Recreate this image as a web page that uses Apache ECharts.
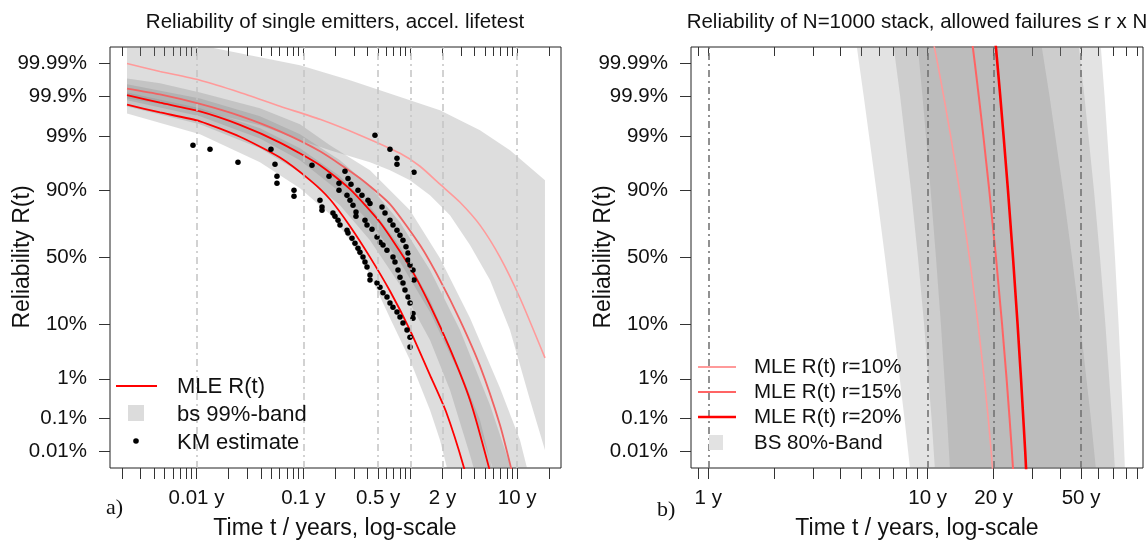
<!DOCTYPE html>
<html>
<head>
<meta charset="utf-8">
<script src="https://cdn.jsdelivr.net/npm/echarts@6/dist/echarts.min.js"></script>
<style>
  html, body { margin: 0; padding: 0; background: #fff; }
  #chart { width: 1148px; height: 540px; }
</style>
</head>
<body>
<div id="chart"></div>
<script>
// ---------- axis ticks and labels ----------
const relTickValues = [99.99, 99.9, 99, 90, 50, 10, 1, 0.1, 0.01];
const relTickLabels = ['99.99%', '99.9%', '99%', '90%', '50%', '10%', '1%', '0.1%', '0.01%'];

const timeTicksA = [0.002, 0.003, 0.004, 0.005, 0.006, 0.007, 0.008, 0.009,
  0.01, 0.02, 0.03, 0.04, 0.05, 0.06, 0.07, 0.08, 0.09,
  0.1, 0.2, 0.3, 0.4, 0.5, 0.6, 0.7, 0.8, 0.9,
  1, 2, 3, 4, 5, 6, 7, 8, 9, 10, 20];
const timeLabelValuesA = [0.01, 0.1, 0.5, 2, 10];
const timeLabelTextsA = ['0.01 y', '0.1 y', '0.5 y', '2 y', '10 y'];
const timeGridA = [0.01, 0.1, 0.5, 1, 2, 10];

const timeTicksB = [0.9, 1, 2, 3, 4, 5, 6, 7, 8, 9, 10, 20, 30, 40, 50, 60, 70, 80, 90];
const timeLabelValuesB = [1, 10, 20, 50];
const timeLabelTextsB = ['1 y', '10 y', '20 y', '50 y'];
const timeGridB = [1, 10, 20, 50];

// ---------- panel a: MLE curves (time in years, reliability in %) ----------
const mlePinkT = [0.002239, 0.004556, 0.01078, 0.02551, 0.0604, 0.1429, 0.3384, 0.801, 1.232, 1.896, 2.917, 4.487, 6.904, 10.62, 18.20];
const mlePinkR = [99.990, 99.982, 99.966, 99.922, 99.813, 99.597, 99.048, 97.71, 95.99, 92.0, 85.55, 73.27, 50.3, 21.85, 2.71];

const mleMidT = [0.002239, 0.004556, 0.01078, 0.02551, 0.0604, 0.1429, 0.3384, 0.6456, 1.232, 1.896, 2.917, 4.487, 6.904, 8.750, 9.745];
const mleMidR = [99.940, 99.912, 99.839, 99.67, 99.22, 97.91, 93.57, 84.67, 59.4, 33.25, 11.53, 1.88, 0.0662, 0.0028, 0.00042];

const mleRed2T = [0.002239, 0.004556, 0.01078, 0.02551, 0.0604, 0.1429, 0.2729, 0.5206, 0.9935, 1.529, 2.352, 3.618, 5.448, 6.199];
const mleRed2R = [99.907, 99.85, 99.745, 99.45, 98.62, 96.16, 90.48, 75.0, 42.7, 18.09, 3.99, 0.315, 0.0028, 0.00027];

const mleRed1T = [0.002239, 0.004556, 0.01078, 0.02551, 0.0604, 0.1153, 0.1773, 0.2729, 0.4198, 0.6456, 0.9935, 1.529, 2.158, 3.180, 3.618];
const mleRed1R = [99.83, 99.73, 99.55, 98.97, 97.24, 93.10, 86.8, 72.6, 50.3, 26.0, 8.21, 1.21, 0.157, 0.0028, 0.00027];

// ---------- panel a: bootstrap 99% bands, outline vertices [time, reliability %] ----------
const bandPink = [
  [0.002239, 99.99934], [0.01078, 99.99764], [0.09294, 99.9886], [0.2729, 99.966], [0.9935, 99.871],
  [1.896, 99.763], [4.487, 99.268], [8.563, 98.02], [18.20, 93.10],
  [18.20, 0.0112], [13.18, 0.315], [8.563, 8.21], [5.567, 33.25], [3.618, 59.4], [2.352, 79.16],
  [1.529, 88.4], [0.9935, 93.1], [0.6456, 95.29], [0.4198, 96.6], [0.2729, 97.4], [0.1773, 98.02],
  [0.09294, 98.77], [0.03926, 99.44], [0.01078, 99.763], [0.004556, 99.84], [0.002239, 99.885]
];
const bandMid = [
  [0.002239, 99.970], [0.004556, 99.958], [0.01078, 99.922], [0.03926, 99.788], [0.09294, 99.47],
  [0.1773, 98.43], [0.4198, 95.29], [0.9935, 81.8], [1.896, 49.5], [3.618, 12.3], [6.904, 0.62],
  [10.62, 0.0234], [13.18, 0.001],
  [6.904, 0.00042], [4.487, 0.0472], [2.917, 1.213], [1.529, 14.8], [0.801, 46.5], [0.4198, 75.0],
  [0.2199, 89.5], [0.09294, 96.9], [0.03926, 98.88], [0.01078, 99.66], [0.002239, 99.871]
];
const bandRed2 = [
  [0.002239, 99.955], [0.01078, 99.885], [0.03926, 99.66], [0.09294, 99.09], [0.2199, 96.9],
  [0.4198, 91.4], [0.801, 75.0], [1.529, 40.5], [2.917, 8.21], [5.567, 0.234], [9.537, 0.001],
  [4.487, 0.00042], [3.618, 0.0077], [2.352, 0.554], [1.529, 5.68], [0.801, 29.84], [0.4198, 63.0],
  [0.2199, 84.23], [0.09294, 94.9], [0.03926, 98.18], [0.01078, 99.47], [0.002239, 99.81]
];
const bandRed1 = [
  [0.002239, 99.922], [0.01078, 99.788], [0.03926, 99.34], [0.09294, 98.18], [0.2199, 94.05],
  [0.4198, 83.75], [0.801, 58.6], [1.529, 20.7], [2.917, 1.55], [4.487, 0.092], [6.199, 0.001],
  [2.352, 0.001], [1.896, 0.0234], [1.529, 0.173], [0.9935, 2.47], [0.6456, 12.3], [0.4198, 36.8],
  [0.2729, 63.0], [0.1773, 79.7], [0.09294, 90.8], [0.03926, 96.6], [0.01078, 99.09], [0.002239, 99.71]
];

// ---------- panel a: Kaplan-Meier estimate ----------
const kmTime = [0.00927, 0.01338, 0.02444, 0.04975, 0.05424, 0.0566, 0.0566, 0.08169, 0.08169, 0.1203,
  0.1736, 0.2153, 0.2153, 0.2449, 0.2614, 0.2789, 0.2558, 0.2729, 0.2911, 0.3105,
  0.3105, 0.1429, 0.1493, 0.1493, 0.1891, 0.1975, 0.2108, 0.22, 0.2558, 0.2614,
  0.2849, 0.3039, 0.3242, 0.3384, 0.3610, 0.3769, 0.3936, 0.4198, 0.4198, 0.4882,
  0.5206, 0.5555, 0.6053, 0.6456, 0.6889, 0.7508, 0.801, 0.8545, 0.9313, 0.9935, 0.9935,
  0.3242, 0.3533, 0.4021, 0.4198, 0.3769, 0.3936, 0.4383, 0.4882, 0.5206, 0.5555,
  0.6053, 0.6889, 0.7192, 0.7674, 0.801, 0.8545, 0.8921, 0.9517, 0.9935, 1.060, 1.060,
  0.5437, 0.5800, 0.6456, 0.6889, 0.7508, 0.801, 0.8545, 0.9117, 0.9517, 0.9517, 0.9935, 1.060, 1.083,
  0.4675, 0.6456, 0.7508, 0.7508, 1.083];
const kmRel = [98.43, 98.1, 96.6, 98.1, 96.3, 94.05, 92.3, 90.17, 88.0, 96.16,
  94.05, 92.3, 90.17, 95.1, 93.5, 92.0, 88.4, 86.4, 84.2, 80.8,
  78.6, 86.4, 83.3, 81.8, 80.3, 78.6, 76.3, 73.3, 70.0, 68.0,
  64.4, 60.8, 57.1, 54.1, 50.3, 46.5, 42.7, 36.8, 33.25, 31.2,
  28.5, 25.0, 22.4, 19.1, 17.0, 14.8, 12.7, 10.5, 8.21, 6.3, 4.3,
  90.17, 88.4, 86.4, 85.0, 76.3, 73.3, 70.6, 65.2, 61.5, 59.4,
  55.6, 50.3, 46.5, 40.5, 35.3, 31.2, 26.6, 22.4, 19.1, 14.2, 12.2,
  83.3, 80.3, 76.3, 73.3, 70.0, 66.6, 63.0, 58.1, 53.4, 48.0, 44.2, 40.5, 33.25,
  99.05, 98.1, 97.15, 96.3, 94.9];

// ---------- panel b: stack reliability ----------
const stackLevels = [99.9999, 99.99, 99.9, 99, 90, 50, 10, 1, 0.1, 0.01, 0.0001];
const stackR10 = [9.91, 11.10, 11.83, 12.73, 13.99, 15.50, 16.97, 18.11, 18.89, 19.47, 20.35];
const stackR15 = [15.28, 16.41, 17.10, 17.94, 19.09, 20.48, 21.83, 22.89, 23.62, 24.20, 25.10];
const stackR20 = [19.74, 20.78, 21.42, 22.18, 23.23, 24.48, 25.69, 26.63, 27.28, 27.83, 28.62];

// 80% bands: earliest and latest time at each reliability level
const bandLevels = [99.9999, 99.9, 90, 50, 10, 0.1, 0.0001];
const bandR10Lo = [4.50, 5.11, 5.84, 6.39, 6.97, 7.84, 8.67];
const bandR10Hi = [31.13, 35.92, 41.42, 45.47, 49.61, 55.43, 60.74];
const bandR15Lo = [6.65, 7.49, 8.40, 9.03, 9.63, 10.42, 11.06];
const bandR15Hi = [46.68, 51.79, 57.28, 61.00, 64.55, 69.18, 72.92];
const bandR20Lo = [8.69, 9.47, 10.32, 10.91, 11.49, 12.26, 12.92];
const bandR20Hi = [59.73, 64.01, 68.47, 71.40, 74.15, 77.67, 80.41];

// ---------- helpers ----------
const FONT = '"Liberation Sans", Arial, Helvetica, sans-serif';

// inverse standard normal CDF (Acklam), used for the probability-paper axis
function qnorm(p) {
  const a = [-3.969683028665376e+01, 2.209460984245205e+02, -2.759285104469687e+02, 1.383577518672690e+02, -3.066479806614716e+01, 2.506628277459239e+00];
  const b = [-5.447609879822406e+01, 1.615858368580409e+02, -1.556989798598866e+02, 6.680131188771972e+01, -1.328068155288572e+01];
  const c = [-7.784894002430293e-03, -3.223964580411365e-01, -2.400758277161838e+00, -2.549732539343734e+00, 4.374664141464968e+00, 2.938163982698783e+00];
  const d = [7.784695709041462e-03, 3.224671290700398e-01, 2.445134137142996e+00, 3.754408661907416e+00];
  const pl = 0.02425;
  let q, r;
  if (p < pl) {
    q = Math.sqrt(-2 * Math.log(p));
    return (((((c[0]*q+c[1])*q+c[2])*q+c[3])*q+c[4])*q+c[5]) / ((((d[0]*q+d[1])*q+d[2])*q+d[3])*q+1);
  }
  if (p > 1 - pl) {
    q = Math.sqrt(-2 * Math.log(1 - p));
    return -(((((c[0]*q+c[1])*q+c[2])*q+c[3])*q+c[4])*q+c[5]) / ((((d[0]*q+d[1])*q+d[2])*q+d[3])*q+1);
  }
  q = p - 0.5; r = q * q;
  return (((((a[0]*r+a[1])*r+a[2])*r+a[3])*r+a[4])*r+a[5])*q / (((((b[0]*r+b[1])*r+b[2])*r+b[3])*r+b[4])*r+1);
}
const probit = pct => qnorm(pct / 100);
const zTicks = relTickValues.map(probit);
const pairs = (ts, rs) => ts.map((t, i) => [t, probit(rs[i])]);

function nearestLabel(values, texts, logScale) {
  return v => {
    let best = 0, bd = Infinity;
    values.forEach((u, i) => {
      const d = logScale ? Math.abs(Math.log(u) - Math.log(v)) : Math.abs(u - v);
      if (d < bd) { bd = d; best = i; }
    });
    return texts[best];
  };
}

const Y_MIN = -4.036, Y_MAX = 4.036;

function timeAxis(grid, min, max, ticks, labelVals, labelTexts, bottom) {
  return {
    type: 'log', logBase: 10, gridIndex: grid, min: min, max: max,
    position: bottom ? 'bottom' : 'top',
    axisLine: { show: false, onZero: false }, splitLine: { show: false }, minorTick: { show: false },
    axisTick: { show: true, inside: !bottom, length: bottom ? 11 : 9, customValues: ticks,
      lineStyle: { color: '#333', width: 1 } },
    axisLabel: bottom ? { show: true, customValues: labelVals,
      formatter: nearestLabel(labelVals, labelTexts, true), margin: 20,
      fontSize: 20.5, fontFamily: FONT, color: '#111' } : { show: false }
  };
}
function relAxis(grid) {
  return {
    type: 'value', gridIndex: grid, min: Y_MIN, max: Y_MAX,
    axisLine: { show: false, onZero: false }, splitLine: { show: false },
    axisTick: { show: true, length: 11, customValues: zTicks, lineStyle: { color: '#333', width: 1 } },
    axisLabel: { customValues: zTicks, formatter: nearestLabel(zTicks, relTickLabels, false),
      margin: 23, fontSize: 20.5, fontFamily: FONT, color: '#111' }
  };
}

function polygonSeries(polys, xi, yi, fill) {
  return {
    type: 'custom', xAxisIndex: xi, yAxisIndex: yi, clip: true, silent: true, z: 1,
    data: polys.map(p => [p[0][0], probit(p[0][1])]),
    renderItem: (params, api) => {
      const poly = polys[params.dataIndex];
      return {
        type: 'polygon',
        shape: { points: poly.map(([t, r]) => api.coord([t, probit(r)])) },
        style: { fill: fill }
      };
    }
  };
}
function lineSeries(data, xi, yi, color, width, smooth) {
  return {
    type: 'line', xAxisIndex: xi, yAxisIndex: yi, data: data, showSymbol: false,
    smooth: smooth, clip: true, silent: true, z: 3,
    lineStyle: { color: color, width: width }
  };
}
function gridLines(values, xi, yi, color) {
  return {
    type: 'line', xAxisIndex: xi, yAxisIndex: yi, data: [], silent: true, z: 2,
    markLine: {
      silent: true, symbol: ['none', 'none'], label: { show: false }, animation: false,
      lineStyle: { color: color, width: 1.5, type: [7, 4, 2, 4] },
      data: values.map(v => ({ xAxis: v }))
    }
  };
}

// stack bands as polygons: early edge down, late edge back up
const stackBand = (lo, hi) => bandLevels.map((r, i) => [lo[i], r])
  .concat(bandLevels.map((r, i) => [hi[i], r]).reverse());
const stackLine = ts => ts.map((t, i) => [t, probit(stackLevels[i])]);

const chart = echarts.init(document.getElementById('chart'), null, { renderer: 'canvas' });

const txt = (x, y, text, size, extra) => ({
  type: 'text', x: x, y: y, silent: true, z: 10,
  style: Object.assign({ text: text, fontSize: size, fontFamily: FONT, fill: '#111',
    align: 'left', verticalAlign: 'middle' }, extra || {})
});

const option = {
  animation: false,
  backgroundColor: '#ffffff',
  grid: [
    { left: 110, top: 47, width: 451, height: 421, show: true, borderColor: '#222', borderWidth: 1, backgroundColor: 'transparent' },
    { left: 691, top: 47, width: 452, height: 421, show: true, borderColor: '#222', borderWidth: 1, backgroundColor: 'transparent' }
  ],
  xAxis: [
    timeAxis(0, 0.001552, 25.70, timeTicksA, timeLabelValuesA, timeLabelTextsA, true),
    timeAxis(0, 0.001552, 25.70, timeTicksA, timeLabelValuesA, timeLabelTextsA, false),
    timeAxis(1, 0.834, 95.8, timeTicksB, timeLabelValuesB, timeLabelTextsB, true),
    timeAxis(1, 0.834, 95.8, timeTicksB, timeLabelValuesB, timeLabelTextsB, false)
  ],
  yAxis: [relAxis(0), relAxis(1)],
  series: [
    polygonSeries([bandPink, bandMid, bandRed2, bandRed1], 0, 0, 'rgba(128,128,128,0.27)'),
    gridLines(timeGridA, 0, 0, '#c4c4c4'),
    lineSeries(pairs(mlePinkT, mlePinkR), 0, 0, '#ff9a9a', 1.6, 0.2),
    lineSeries(pairs(mleMidT, mleMidR), 0, 0, '#f06262', 1.8, 0.2),
    lineSeries(pairs(mleRed2T, mleRed2R), 0, 0, '#ff0000', 1.8, 0.2),
    lineSeries(pairs(mleRed1T, mleRed1R), 0, 0, '#ff0000', 1.8, 0.2),
    {
      type: 'scatter', xAxisIndex: 0, yAxisIndex: 0, silent: true, z: 4,
      symbol: 'circle', symbolSize: 5.5, itemStyle: { color: '#000', opacity: 1 },
      data: pairs(kmTime, kmRel)
    },
    polygonSeries([stackBand(bandR10Lo, bandR10Hi), stackBand(bandR15Lo, bandR15Hi), stackBand(bandR20Lo, bandR20Hi)],
      2, 1, 'rgba(128,128,128,0.22)'),
    gridLines(timeGridB, 2, 1, '#6e6e6e'),
    lineSeries(stackLine(stackR10), 2, 1, '#ff9a9a', 1.6, false),
    lineSeries(stackLine(stackR15), 2, 1, '#ff6464', 2, false),
    lineSeries(stackLine(stackR20), 2, 1, '#ff0000', 2.6, false)
  ],
  graphic: [
    txt(335, 22, 'Reliability of single emitters, accel. lifetest', 20.5, { align: 'center' }),
    txt(917, 22, 'Reliability of N=1000 stack, allowed failures \u2264 r x N', 20.5, { align: 'center' }),
    txt(335, 529, 'Time t / years, log-scale', 23, { align: 'center' }),
    txt(917, 529, 'Time t / years, log-scale', 23, { align: 'center' }),
    Object.assign(txt(23, 257, 'Reliability R(t)', 23, { align: 'center' }), { rotation: Math.PI / 2 }),
    Object.assign(txt(604, 257, 'Reliability R(t)', 23, { align: 'center' }), { rotation: Math.PI / 2 }),
    txt(106, 508, 'a)', 22, { fontFamily: '"Liberation Serif", "DejaVu Serif", serif' }),
    txt(657, 510, 'b)', 22, { fontFamily: '"Liberation Serif", "DejaVu Serif", serif' }),
    // legend, panel a
    { type: 'line', silent: true, z: 10, shape: { x1: 116, y1: 386, x2: 157, y2: 386 }, style: { stroke: '#ff0000', lineWidth: 2 } },
    { type: 'rect', silent: true, z: 10, shape: { x: 128, y: 405, width: 16, height: 16 }, style: { fill: '#dcdcdc' } },
    { type: 'circle', silent: true, z: 10, shape: { cx: 136, cy: 441, r: 2.8 }, style: { fill: '#000' } },
    txt(177, 387, 'MLE R(t)', 22),
    txt(177, 415, 'bs 99%-band', 22),
    txt(177, 443, 'KM estimate', 22),
    // legend, panel b
    { type: 'line', silent: true, z: 10, shape: { x1: 698, y1: 367, x2: 736, y2: 367 }, style: { stroke: '#ff9a9a', lineWidth: 2 } },
    { type: 'line', silent: true, z: 10, shape: { x1: 698, y1: 392, x2: 736, y2: 392 }, style: { stroke: '#ff6464', lineWidth: 2.2 } },
    { type: 'line', silent: true, z: 10, shape: { x1: 698, y1: 417, x2: 736, y2: 417 }, style: { stroke: '#ff0000', lineWidth: 2.6 } },
    { type: 'rect', silent: true, z: 10, shape: { x: 709, y: 435, width: 14, height: 15 }, style: { fill: '#e2e2e2' } },
    txt(754, 367, 'MLE R(t) r=10%', 20.5),
    txt(754, 392, 'MLE R(t) r=15%', 20.5),
    txt(754, 417, 'MLE R(t) r=20%', 20.5),
    txt(754, 443, 'BS 80%-Band', 20.5)
  ]
};
chart.setOption(option);
</script>
</body>
</html>
